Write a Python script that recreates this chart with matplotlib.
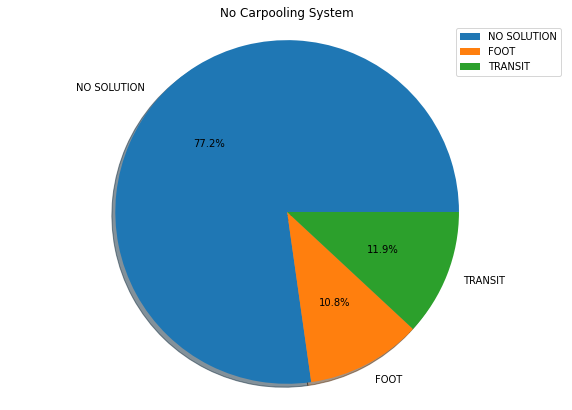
import matplotlib
matplotlib.use("Agg")
import matplotlib.pyplot as plt

labels = ["NO SOLUTION", "FOOT", "TRANSIT"]
values = [77.24, 10.84, 11.92]
colors = ["#1f77b4", "#ff7f0e", "#2ca02c"]

fig, ax = plt.subplots(figsize=(572 / 72, 410 / 72), dpi=72)
ax.pie(values, labels=labels, autopct='%1.1f%%', shadow=True, colors=colors)
ax.axis('equal')
ax.set_title("No Carpooling System")
ax.legend(loc="upper right")
fig.subplots_adjust(left=0.014, right=0.99, top=0.944, bottom=0.022)
fig.savefig("out.png", dpi=72, facecolor="white")
